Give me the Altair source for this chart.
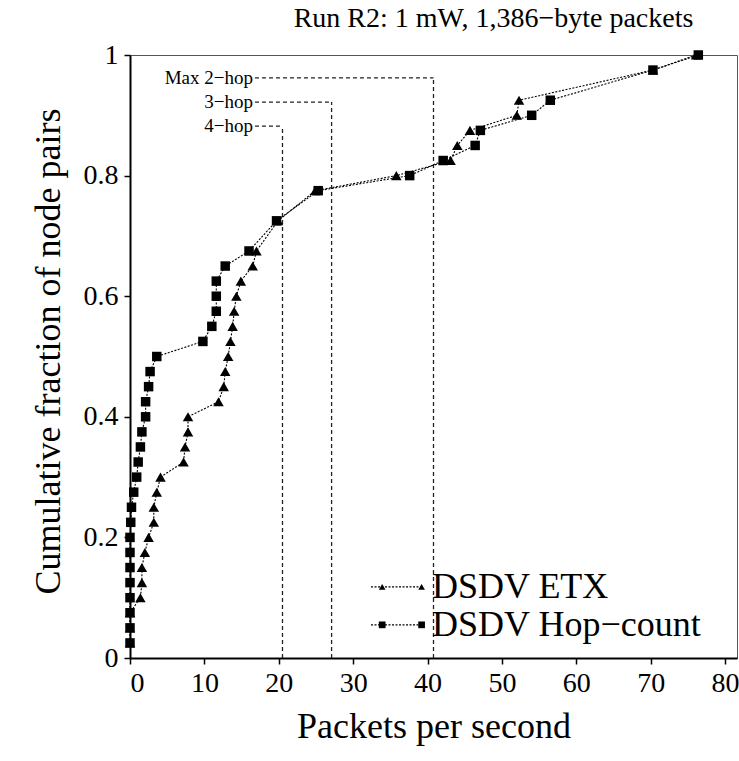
import altair as alt
import pandas as pd

# ---- data ----
etx_x = [0, 0, 0, 1.4, 1.6, 1.6, 2.0, 2.5, 3.2, 3.2, 3.6, 4.1, 7.2, 7.4, 7.8, 7.8,
         11.9, 12.6, 12.8, 13.2, 13.5, 13.8, 14.0, 14.3, 14.9, 16.5, 17.0, 19.9,
         24.9, 35.8, 43.1, 44.0, 45.7, 52.0, 52.3, 70.3, 76.1]
etx_y = [0.025, 0.05, 0.075, 0.1, 0.125, 0.15, 0.175, 0.2, 0.225, 0.25, 0.275, 0.3,
         0.325, 0.35, 0.375, 0.4, 0.425, 0.45, 0.475, 0.5, 0.525, 0.55, 0.575, 0.6,
         0.625, 0.65, 0.675, 0.725, 0.775, 0.8, 0.825, 0.85, 0.875, 0.9, 0.925,
         0.975, 1.0]
hop_x = [0, 0, 0, 0, 0, 0, 0, 0, 0.1, 0.2, 0.5, 0.9, 1.1, 1.4, 1.6, 2.1, 2.1, 2.5,
         2.7, 3.6, 9.8, 11.0, 11.6, 11.6, 11.6, 12.8, 16.0, 19.7, 25.3, 37.6, 42.1,
         46.4, 47.1, 54.0, 56.5, 70.3, 76.4]
hop_y = [0.025, 0.05, 0.075, 0.1, 0.125, 0.15, 0.175, 0.2, 0.225, 0.25, 0.275, 0.3,
         0.325, 0.35, 0.375, 0.4, 0.425, 0.45, 0.475, 0.5, 0.525, 0.55, 0.575, 0.6,
         0.625, 0.65, 0.675, 0.725, 0.775, 0.8, 0.825, 0.85, 0.875, 0.9, 0.925,
         0.975, 1.0]

hop_labels = ["Max 2\u2212hop", "3\u2212hop", "4\u2212hop"]
hop_limit_x = [40.8, 27.1, 20.5]
hop_limit_y = [0.962, 0.922, 0.882]

series_names = ["DSDV ETX", "DSDV Hop\u2212count"]

FONT = "Liberation Serif"
XMAX = 81.6

etx = pd.DataFrame({"x": etx_x, "y": etx_y})
hop = pd.DataFrame({"x": hop_x, "y": hop_y})
lim = pd.DataFrame({"label": hop_labels, "xv": hop_limit_x, "yv": hop_limit_y})
lim["x0"] = 16.8
lim["zero"] = 0.0

xs = alt.Scale(domain=[0, XMAX], nice=False, zero=False)
ys = alt.Scale(domain=[0, 1], nice=False)

xenc = alt.X("x:Q", scale=xs,
             axis=alt.Axis(values=[0, 10, 20, 30, 40, 50, 60, 70, 80],
                           title="Packets per second", format="d"))
yenc = alt.Y("y:Q", scale=ys,
             axis=alt.Axis(values=[0, 0.2, 0.4, 0.6, 0.8, 1.0],
                           title="Cumulative fraction of node pairs", titleY=296,
                           labelExpr="datum.value == 0 ? '0' : datum.value == 1 ? '1' : format(datum.value, '.1f')"))

def series(df, shape, size):
    line = alt.Chart(df).mark_line(color="black", strokeWidth=1.1, strokeDash=[2, 1.5]).encode(
        x=xenc, y=yenc, order="y:Q")
    pts = alt.Chart(df).mark_point(shape=shape, filled=True, color="black", size=size, opacity=1).encode(
        x=alt.X("x:Q", scale=xs), y=alt.Y("y:Q", scale=ys))
    return line + pts

etx_layer = series(etx, "triangle-up", 110)
hop_layer = series(hop, "square", 90)

hrules = alt.Chart(lim).mark_rule(color="#222", strokeWidth=1.3, strokeDash=[4, 3]).encode(
    x=alt.X("x0:Q", scale=xs), x2="xv:Q", y=alt.Y("yv:Q", scale=ys))
vrules = alt.Chart(lim).mark_rule(color="#222", strokeWidth=1.3, strokeDash=[4, 3]).encode(
    x=alt.X("xv:Q", scale=xs), y=alt.Y("zero:Q", scale=ys), y2="yv:Q")
labels = alt.Chart(lim).mark_text(align="right", baseline="middle", font=FONT, fontSize=19,
                                  color="black", dx=-2).encode(
    x=alt.X("x0:Q", scale=xs), y=alt.Y("yv:Q", scale=ys), text="label:N")

# legend (drawn inside the plot)
leg = pd.DataFrame({"name": series_names, "ly": [0.118, 0.055],
                    "shape": ["triangle-up", "square"]})
leg["l0"] = 32.4
leg["l1"] = 39.2
leg["m0"] = 33.9
leg["tx"] = 40.6
leg_lines = alt.Chart(leg).mark_rule(color="black", strokeWidth=1.1, strokeDash=[2, 1.5]).encode(
    x=alt.X("l0:Q", scale=xs), x2="l1:Q", y=alt.Y("ly:Q", scale=ys))
leg_pts = []
for col in ["m0", "l1"]:
    leg_pts.append(alt.Chart(leg).mark_point(filled=True, color="black", opacity=1, size=45).encode(
        x=alt.X(f"{col}:Q", scale=xs), y=alt.Y("ly:Q", scale=ys),
        shape=alt.Shape("shape:N", scale=None, legend=None)))
leg_text = alt.Chart(leg).mark_text(align="left", baseline="middle", font=FONT, fontSize=36,
                                    color="black").encode(
    x=alt.X("tx:Q", scale=xs), y=alt.Y("ly:Q", scale=ys), text="name:N")

chart = alt.layer(
    hrules, vrules, labels, etx_layer, hop_layer, leg_lines, *leg_pts, leg_text
).properties(
    width=607, height=603,
    background="white",
    title=alt.TitleParams("Run R2: 1 mW, 1,386\u2212byte packets", font=FONT, fontSize=28,
                          fontWeight="normal", color="black", anchor="middle", dx=60, offset=8),
    autosize=alt.AutoSizeParams(type="none"),
    padding={"left": 130, "top": 55, "right": 2, "bottom": 103},
).configure_view(
    stroke="#555", strokeWidth=1
).configure_axis(
    grid=False, labelFont=FONT, titleFont=FONT, labelFontSize=28, titleFontSize=36,
    titleFontWeight="normal", labelColor="black", titleColor="black",
    domainColor="black", domainWidth=2, tickColor="black", tickSize=6, tickWidth=1.5,
).configure_axisX(
    labelPadding=5, titlePadding=12
).configure_axisY(
    labelPadding=6, titlePadding=16
)

chart.save("out.html", embed_options={"renderer": "svg", "actions": False})
